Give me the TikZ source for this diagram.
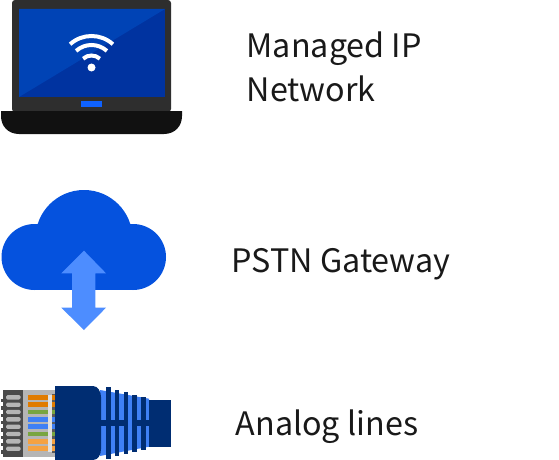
\documentclass[tikz,border=0pt]{standalone}
\usepackage{fontspec}
\setmainfont{Noto Sans CJK SC}
\usepackage{tikz}
\usetikzlibrary{positioning}
\definecolor{bezelgray}{HTML}{2E2E2E}
\definecolor{basegray}{HTML}{111111}
\definecolor{screendark}{HTML}{0033A0}
\definecolor{screenlight}{HTML}{0043B5}
\definecolor{keyblue}{HTML}{0F62FE}
\definecolor{cloudblue}{HTML}{0552DE}
\definecolor{arrowblue}{HTML}{4D8DFF}
\definecolor{plugnavy}{HTML}{002D72}
\definecolor{plugblue}{HTML}{3F80F5}
\definecolor{housegray}{HTML}{B5B5B5}
\definecolor{gripgray}{HTML}{4A4A4A}
\definecolor{wireorange}{HTML}{E07B00}
\definecolor{wiregreen}{HTML}{78A540}
\definecolor{wirelight}{HTML}{F5A242}
\begin{document}
\begin{tikzpicture}[x=1pt,y=-1pt,
            itemlabel/.style={font=\fontsize{32.3}{44}\selectfont, anchor=base west, inner sep=0pt, align=left, text=black!90},
            wifiarc/.style={white, line width=4pt}
        ]
        \useasboundingbox (0,0) rectangle (559,460);

        % laptop
        \fill[bezelgray, rounded corners=3pt] (12,0) rectangle (171,112);
        \fill[screendark] (19,9) rectangle (165,97);
        \fill[screenlight] (19,9) -- (165,9) -- (19,97) -- cycle;
        \fill[keyblue] (81,101) rectangle (102,107);
        \fill[basegray] (1,111) -- (182,111) -- (182,116) .. controls (182,126) and (175,134) .. (164,134)
            -- (19,134) .. controls (8,134) and (1,126) .. (1,116) -- cycle;
        \fill[white] (91.5,67.5) circle (4pt);
        \foreach \rad in {12.5,23,32} {
            \draw[wifiarc] ({91.5-\rad*cos(48)},{68-\rad*sin(48)}) arc[start angle=228, end angle=312, radius=\rad pt, y radius=-\rad pt];
        }

        % cloud
        \fill[cloudblue] (34.5,257) circle (33pt) (133,257) circle (33pt) (84,238.5) circle (48.5pt);
        \fill[cloudblue] (34.5,224) rectangle (133,290);
        \fill[arrowblue] (84,250.7) -- (106,273.3) -- (95.3,273.3) -- (95.3,307.7) -- (106,307.7) -- (84,330)
            -- (61.3,307.7) -- (72,307.7) -- (72,273.3) -- (61.3,273.3) -- cycle;

        % connector
        \fill[gripgray] (3,390) rectangle (23.3,456.7);
        \fill[housegray] (23.3,390) rectangle (56,456.7);
        \fill[black!65] (52,394) rectangle (56,453);
        \fill[black!12] (47.7,395) rectangle (52,452);
        \foreach \ypos/\wirecolor in {397.3/wireorange,404.7/wireorange,412/wiregreen,419.3/plugblue,426.7/plugblue,434/wiregreen,441.3/wirelight,448.7/wirelight} {
            \fill[housegray, rounded corners=1.5pt] (6,\ypos-2.2) rectangle (20.7,\ypos+2.2);
            \fill[gripgray] (1.3,\ypos+1.6) rectangle (3,\ypos+5);
            \fill[\wirecolor] (28.3,\ypos-2.4) rectangle (47.5,\ypos+2.4);
            \fill[\wirecolor] (52,\ypos-2.4) rectangle (56,\ypos+2.4);
        }
        \fill[plugblue] (100,390) -- (149,398.7) -- (149,446.7) -- (100,456) -- cycle;
        \fill[plugnavy] (101,419.5) rectangle (149,425.7);
        \fill[plugblue] (128,419) rectangle (132.2,426);
        \fill[plugnavy] (55,386) -- (93,386) .. controls (98,386) and (101,392) .. (101,397) -- (101,449)
            .. controls (101,455) and (98,460) .. (93,460) -- (55,460) -- cycle;
        \foreach \xpos/\ytop/\ybot in {106/387.3/459,114.7/389.7/456.3,123.5/392/454.3,132.2/395/452.3,141/397.3/450} {
            \fill[plugnavy] (\xpos,\ytop) rectangle (\xpos+4.5,\ybot);
        }
        \fill[plugnavy] (149,400) rectangle (171,446.7);

        % text
        \node[itemlabel] (managed) at (246.5,101) {Managed IP\\Network};
        \node[itemlabel] (gateway) at (231.5,272.5) {PSTN Gateway};
        \node[itemlabel] (analog) at (235.5,435.5) {Analog lines};

    \end{tikzpicture}
\end{document}
